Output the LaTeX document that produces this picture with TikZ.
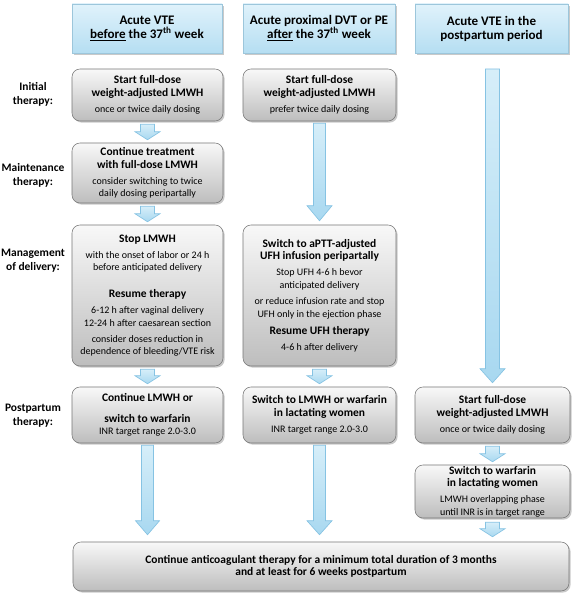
\documentclass[tikz,border=0pt]{standalone}
\usepackage{fontspec}
\setmainfont{Carlito}
\usetikzlibrary{calc,shadows}
\definecolor{arrfillA}{HTML}{D6EEF9}
\definecolor{arrfillB}{HTML}{A8D8F0}
\definecolor{arrdraw}{HTML}{86C3E3}
\definecolor{hdrA}{HTML}{E0F2FB}
\definecolor{hdrB}{HTML}{B5DEF2}
\definecolor{hdrdraw}{HTML}{9CC6DB}
\definecolor{boxA}{HTML}{F8F8F8}
\definecolor{boxB}{HTML}{BDBDBD}
\definecolor{boxdraw}{HTML}{767676}
\newcommand\B[1]{{\fontsize{8.6}{9.4}\selectfont\bfseries #1}}
\newcommand\fatarrow[5]{%
  \path[fat] let \p1=(#1), \p2=(#2) in
    (\x1-#3*0.75pt,\y1) -- (\x1+#3*0.75pt,\y1) -- (\x1+#3*0.75pt,\y2+#5*0.75pt)
    -- (\x1+#4*0.75pt,\y2+#5*0.75pt) -- (\x1,\y2) -- (\x1-#4*0.75pt,\y2+#5*0.75pt)
    -- (\x1-#3*0.75pt,\y2+#5*0.75pt) -- cycle;}
\tikzset{
  shad/.style={drop shadow={shadow xshift=1.2pt,shadow yshift=-1.2pt,opacity=.35,fill=black!60}},
  hdr/.style 2 args={draw=hdrdraw, top color=hdrA, bottom color=hdrB, shad,
    minimum width=#1*0.75pt, minimum height=#2*0.75pt, inner sep=0pt, align=center,
    font=\fontsize{9.8}{10.5}\selectfont\bfseries},
  proc/.style 2 args={draw=boxdraw, rounded corners=6pt, top color=boxA, bottom color=boxB, shad,
    minimum width=#1*0.75pt, minimum height=#2*0.75pt, inner sep=0pt, align=center,
    font=\fontsize{7.5}{9.4}\selectfont},
  lbl/.style={align=center, font=\fontsize{8.6}{10.5}\selectfont\bfseries},
  fat/.style={draw=arrdraw, line width=0.5pt, top color=arrfillA, bottom color=arrfillB},
}
\begin{document}
\begin{tikzpicture}[x=0.75pt,y=-0.75pt]
\useasboundingbox[fill=white] (0,0) rectangle (573,595);
% headers
\node[hdr={150}{49}] (h1) at (147,28.5) {Acute VTE\\\underline{before} the 37\textsuperscript{th} week};
\node[hdr={152}{49}] (h2) at (319,28.5) {Acute proximal DVT or PE\\\underline{after} the 37\textsuperscript{th} week};
\node[hdr={153}{49}] (h3) at (491.5,28.5) {Acute VTE in the\\postpartum period};
% row labels
\node[lbl] (l1) at (33,94) {Initial\\therapy:};
\node[lbl] (l2) at (33,175) {Maintenance\\therapy:};
\node[lbl] (l3) at (33,261) {Management\\of delivery:};
\node[lbl] (l4) at (33,416) {Postpartum\\therapy:};
% column 1
\node[proc={151}{52}] (i1) at (147.5,95) {\B{Start full-dose}\\\B{weight-adjusted LMWH}\\[2.6pt]once or twice daily dosing};
\node[proc={151}{60}] (m1) at (147.5,173) {\B{Continue treatment}\\\B{with full-dose LMWH}\\[2.6pt]consider switching to twice\\daily dosing peripartally};
\node[proc={151}{141}] (d1) at (147.5,295.5) {\B{Stop LMWH}\\[2.6pt]with the onset of labor or 24 h\\before anticipated delivery\\[11pt]\B{Resume therapy}\\[2.6pt]6-12 h after vaginal delivery\\12-24 h after caesarean section\\[2.6pt]consider doses reduction in\\dependence of bleeding/VTE risk};
\node[proc={151}{56}] (p1) at (147.5,415) {\B{Continue LMWH or}\\[6pt]\B{switch to warfarin}\\INR target range 2.0-3.0};
% column 2
\node[proc={153}{52}] (i2) at (319.5,95) {\B{Start full-dose}\\\B{weight-adjusted LMWH}\\[2.6pt]prefer twice daily dosing};
\node[proc={153}{141}] (d2) at (319.5,295.5) {\B{Switch to aPTT-adjusted}\\\B{UFH infusion peripartally}\\[2.6pt]Stop UFH 4-6 h bevor\\anticipated delivery\\[3.2pt]or reduce infusion rate and stop\\UFH only in the ejection phase\\[3.2pt]\B{Resume UFH therapy}\\[2.6pt]4-6 h after delivery};
\node[proc={153}{56}] (p2) at (319.5,415) {\B{Switch to LMWH or warfarin}\\\B{in lactating women}\\[2.6pt]INR target range 2.0-3.0};
% column 3
\coordinate (c3) at (492.5,69);
\node[proc={155}{56}] (p3) at (492.5,415) {\B{Start full-dose}\\\B{weight-adjusted LMWH}\\[2.6pt]once or twice daily dosing};
\node[proc={155}{53}] (w3) at (492.5,491.5) {\B{Switch to warfarin}\\\B{in lactating women}\\[2.6pt]LMWH overlapping phase\\until INR is in target range};
% final
\node[proc={496}{49}] (f) at (321,566.5) {\B{Continue anticoagulant therapy for a minimum total duration of 3 months}\\\B{and at least for 6 weeks postpartum}};
% small arrows
\fatarrow{$(i1.south)+(0,3)$}{$(m1.north)+(0,-3)$}{7}{12.5}{8}
\fatarrow{$(m1.south)+(0,3)$}{$(d1.north)+(0,-3)$}{7}{12.5}{8}
\fatarrow{$(d1.south)+(0,3)$}{$(p1.north)+(0,-3)$}{7}{12.5}{8}
\fatarrow{$(d2.south)+(0,3)$}{$(p2.north)+(0,-3)$}{7}{12.5}{8}
\fatarrow{$(p3.south)+(0,3)$}{$(w3.north)+(0,-3)$}{7}{12.5}{8}
\fatarrow{$(w3.south)+(0,4)$}{$(f.north)+(0,-5)$}{7}{12.5}{8}
% long arrows
\fatarrow{$(i2.south)+(0,2)$}{$(d2.north)+(0,-4)$}{6}{12.5}{15}
\fatarrow{c3}{$(p3.north)+(0,-4)$}{7}{12.5}{14}
\fatarrow{$(p1.south)+(0,2)$}{$(f.north)+(0,-7)$}{6}{12}{14}
\fatarrow{$(p2.south)+(0,2)$}{$(f.north-|p2.south)+(0,-7)$}{6}{12.5}{14}
\end{tikzpicture}
\end{document}
